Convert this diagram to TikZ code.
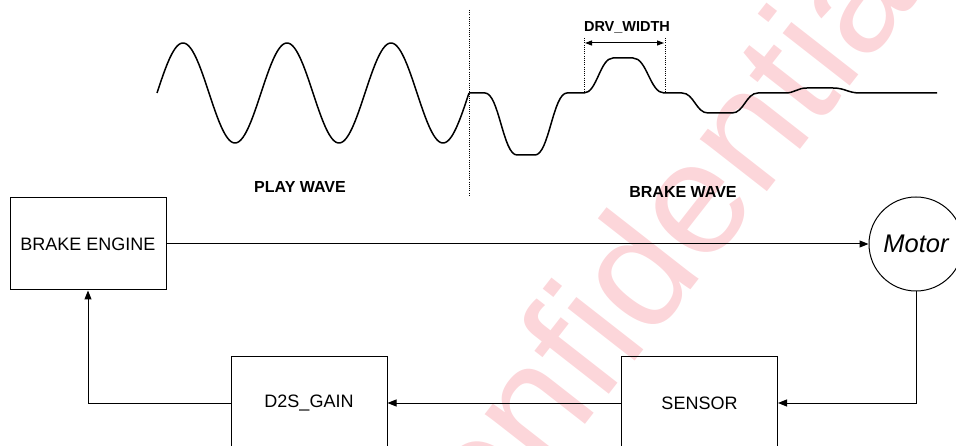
\documentclass[tikz,border=0pt]{standalone}
\usepackage{fontspec}
\setmainfont{Liberation Sans}
\usetikzlibrary{arrows.meta}
\definecolor{wmpink}{RGB}{252,214,218}
\begin{document}
\begin{tikzpicture}[x=1pt,y=-1pt,
  blk/.style={draw, line width=1pt, minimum width=156pt, minimum height=92pt, inner sep=0pt, font=\fontsize{18}{18}\selectfont},
  conn/.style={line width=1pt, -{Triangle[length=9pt,width=7pt]}},
  wavepath/.style={line width=1.5pt, line join=round},
  dotline/.style={line width=0.8pt, dash pattern=on 1pt off 1.2pt},
  lbl/.style={font=\bfseries\fontsize{16}{16}\selectfont, inner sep=0pt, anchor=base}]
\useasboundingbox (0,0) rectangle (956,446);
\clip (0,0) rectangle (956,446);
% watermark
\node (watermark) [anchor=base west, rotate=52, inner sep=0pt, text=wmpink,
  font=\fontsize{161}{161}\selectfont] at (419,638) {Confidential};
% play wave
\draw[wavepath] plot[domain=157:469, samples=240, smooth] (\x, {93-50*sin((\x-157)/104*360)});
% separator
\coordinate (septop) at (469,10);
\coordinate (sepbot) at (469,197);
\draw[dotline] (septop) -- (sepbot);
% brake wave
\draw[wavepath] (469,93) -- (485,93) .. controls (499,93) and (503,155) .. (517,155)
  -- (535,155) .. controls (549,155) and (553,93) .. (567,93)
  -- (584,93) .. controls (597,93) and (600,58) .. (613,58)
  -- (633,58) .. controls (647,58) and (650,93) .. (664,93)
  -- (682,93) .. controls (694,93) and (696,113) .. (708,113)
  -- (732,113) .. controls (744,113) and (746,93) .. (758,93)
  -- (785,93) .. controls (795,93) and (797,88) .. (807,88)
  -- (833,88) .. controls (845,88) and (848,93) .. (860,93)
  -- (937,93);
% DRV_WIDTH marker
\coordinate (dlt) at (584,38); \coordinate (dlb) at (584,92);
\coordinate (drt) at (665,38); \coordinate (drb) at (665,92);
\draw[dotline] (dlt) -- (dlb);
\draw[dotline] (drt) -- (drb);
\coordinate (dl) at (585,43); \coordinate (dr) at (664,43);
\draw[line width=1pt, {Triangle[length=7pt,width=5pt]}-{Triangle[length=7pt,width=5pt]}] (dl) -- (dr);
\node (drvlbl) [lbl, font=\bfseries\fontsize{14.5}{14.5}\selectfont] at (627,32) {DRV\_WIDTH};
\node (playlbl) [lbl] at (300,193) {PLAY WAVE};
\node (brakelbl) [lbl] at (683,198) {BRAKE WAVE};
% block diagram
\node (be) [blk] at (88,244) {BRAKE ENGINE};
\node (motor) [draw, circle, line width=1pt, minimum size=94pt, inner sep=0pt,
  font=\itshape\fontsize{25.5}{25.5}\selectfont] at (916,244) {Motor};
\node (sensor) [blk] at (699.5,403) {SENSOR};
\node (d2s) [blk] at (309,403) {D2S\_GAIN};
\draw[conn] (be.east) -- (motor.west);
\draw[conn] (motor.south) |- (sensor.east);
\draw[conn] (sensor.west) -- (d2s.east);
\draw[conn] (d2s.west) -| (be.south);
\end{tikzpicture}
\end{document}
